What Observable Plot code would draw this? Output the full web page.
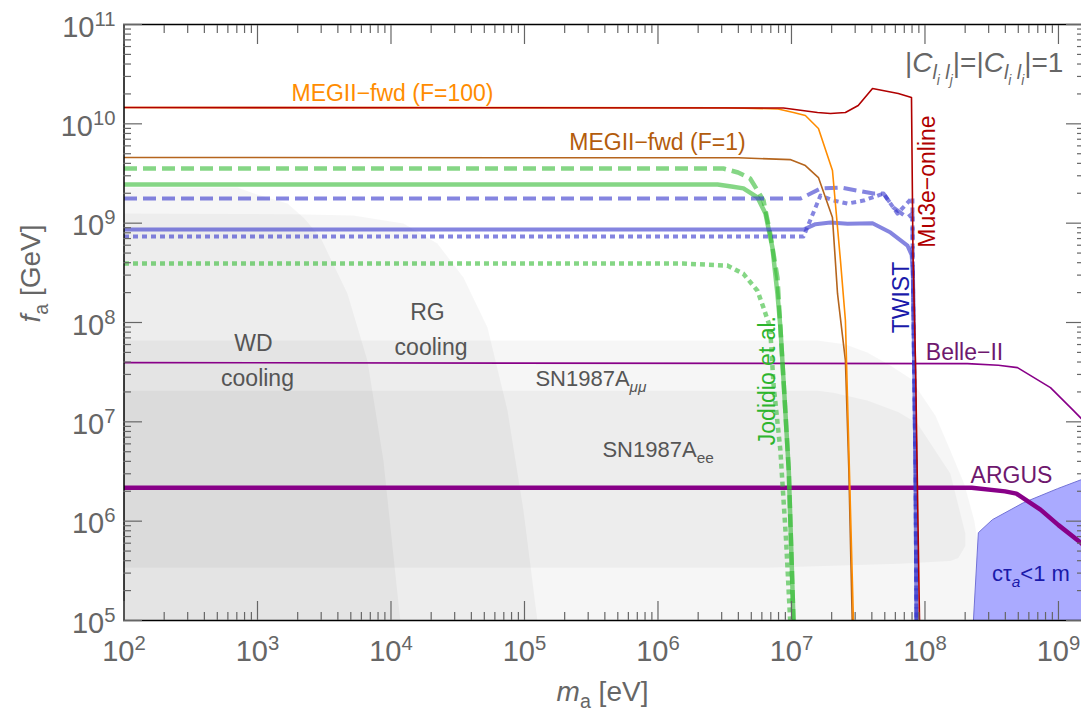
<!DOCTYPE html>
<html><head><meta charset="utf-8">
<script src="https://cdn.jsdelivr.net/npm/d3@7"></script>
<script src="https://cdn.jsdelivr.net/npm/@observablehq/plot@0.6"></script>
<style>body{margin:0;background:#fff;} svg{display:block}</style>
</head><body><div id="chart"></div>
<script>
// ---- data (log10 of m_a [eV], log10 of f_a [GeV]) ----
const xMaxExp = 9.195;
const majorXExp = [2, 3, 4, 5, 6, 7, 8, 9];
const majorYExp = [5, 6, 7, 8, 9, 10, 11];
const minorMult = [2, 3, 4, 5, 6, 7, 8, 9];

const wdCooling = [[2,5],[2,9.359],[2.85,9.359],[2.97,9.30],[3.225,9.197],[3.35,9.05],[3.472,8.855],[3.674,8.291],[3.824,7.616],[3.944,6.609],[4.07,5]];
const rgCooling = [[2,5],[2,9.097],[3.3,9.09],[3.719,9.077],[4.094,8.996],[4.348,8.795],[4.543,8.452],[4.723,7.949],[4.873,7.113],[4.993,6.106],[5.097,5]];
const sn1987Amumu = [[2,5],[2,7.818],[7.195,7.818],[7.4,7.78],[7.569,7.697],[7.75,7.56],[7.891,7.435],[8.079,7.062],[8.191,6.71],[8.296,6.368],[8.37,6.005],[8.416,5.6],[8.43,5]];
const sn1987Aee = [[2,5.532],[2,7.314],[7.2,7.314],[7.315,7.294],[7.569,7.214],[7.8,7.1],[7.944,6.982],[8.191,6.478],[8.303,5.874],[8.303,5.75],[8.25,5.63],[8.191,5.60],[7.82,5.572],[6.82,5.532]];
const ctauRegion = [[8.363,5],[8.40,5.884],[8.505,6.015],[8.738,6.186],[8.993,6.327],[9.195,6.43],[9.195,5]];

const megF100 = [[2,10.164],[6.5,10.162],[6.9,10.15],[7.015,10.114],[7.104,10.084],[7.202,9.953],[7.307,9.53],[7.367,8.623],[7.404,8.02],[7.434,6.509],[7.464,5]];
const megF1 = [[2,9.661],[6.6,9.658],[6.99,9.64],[7.104,9.58],[7.202,9.459],[7.307,9.056],[7.345,8.29],[7.404,7.616],[7.43,6.5],[7.455,5]];
const mu3eOnline = [[2,10.164],[6.94,10.16],[7.195,10.114],[7.292,10.104],[7.404,10.114],[7.50,10.184],[7.607,10.355],[7.80,10.305],[7.899,10.265],[7.91,8.7],[7.929,7.6],[7.959,5]];
const greenDashed = [[2,9.55],[6.49,9.55],[6.6,9.51],[6.69,9.45],[6.79,9.23],[6.84,8.9],[6.895,8.45],[6.917,7.95],[6.95,7.2],[6.98,6.5],[7.015,5]];
const greenSolid = [[2,9.389],[6.446,9.389],[6.55,9.37],[6.64,9.35],[6.745,9.26],[6.805,9.097],[6.857,8.755],[6.895,8.29],[6.917,7.95],[6.95,7.2],[6.98,6.5],[7.015,5]];
const greenDotted = [[2,8.593],[6.19,8.593],[6.52,8.573],[6.64,8.49],[6.745,8.32],[6.79,8.15],[6.84,7.95],[6.865,7.385],[6.917,6.71],[6.96,5.8],[6.99,5]];
const blueSolid = [[2,8.935],[7.09,8.935],[7.18,8.99],[7.292,9.006],[7.42,8.995],[7.607,9.0],[7.742,8.905],[7.869,8.774],[7.9,8.68],[7.91,8.5],[7.929,6.5],[7.936,5]];
const blueDashed = [[2,9.248],[7.068,9.248],[7.217,9.348],[7.367,9.359],[7.615,9.298],[7.69,9.298],[7.764,9.157],[7.869,9.056],[7.906,9.097],[7.908,8.6],[7.929,6.5],[7.936,5]];
const blueDotted = [[2,8.865],[7.09,8.865],[7.217,9.278],[7.315,9.228],[7.42,9.197],[7.54,9.228],[7.69,9.298],[7.794,9.097],[7.906,9.258],[7.908,8.6],[7.929,6.5],[7.936,5]];
const belleII = [[2,7.596],[8.318,7.586],[8.55,7.57],[8.693,7.546],[8.94,7.344],[9.113,7.113],[9.195,7.0]];
const argus = [[2,6.337],[8.35,6.337],[8.6,6.3],[8.685,6.277],[8.865,6.116],[9.0,5.96],[9.17,5.78],[9.195,5.75]];

// annotations (text, position in log10 data units)
const annotations = [
  {text: "MEGII−fwd (F=100)", lx: 4.011, ly: 10.30, color: "#ff8c00", size: 23},
  {text: "MEGII−fwd (F=1)", lx: 5.996, ly: 9.807, color: "#b35c0c", size: 23},
  {text: "|~C~_{~l~_{~i~} ~l~_{~j~}}|=|~C~_{~l~_{~i~} ~l~_{~i~}}|=1", lx: 9.037, ly: 10.617, color: "#666", size: 28, anchor: "end"},
  {text: "Mu3e−online", lx: 8.022, ly: 9.419, color: "#b00000", size: 23, rotate: -90},
  {text: "TWIST", lx: 7.824, ly: 8.251, color: "#1a1aaa", size: 23, rotate: -90},
  {text: "Jodidio et al.", lx: 6.82, ly: 7.415, color: "#2db52d", size: 23, rotate: -90},
  {text: "Belle−II", lx: 8.296, ly: 7.697, color: "#6e186e", size: 23},
  {text: "ARGUS", lx: 8.648, ly: 6.458, color: "#6e186e", size: 23},
  {text: "cτ_{~a~}<1 m", lx: 8.794, ly: 5.471, color: "#1a1aaa", size: 22},
  {text: "WD", lx: 2.97, ly: 7.787, color: "#555", size: 23},
  {text: "cooling", lx: 3.0, ly: 7.44, color: "#555", size: 23},
  {text: "RG", lx: 4.273, ly: 8.095, color: "#555", size: 23},
  {text: "cooling", lx: 4.30, ly: 7.747, color: "#555", size: 23},
  {text: "SN1987A_{~μμ~}", lx: 5.082, ly: 7.435, color: "#555", size: 22, anchor: "start"},
  {text: "SN1987A_{ee}", lx: 5.584, ly: 6.72, color: "#555", size: 22, anchor: "start"}
];

// ---- helpers ----
const pts = arr => arr.map(([lx, ly]) => ({x: 10 ** lx, y: 10 ** ly}));
const majorX = majorXExp.map(e => 10 ** e);
const majorY = majorYExp.map(e => 10 ** e);
const minorX = majorXExp.flatMap(e => minorMult.map(k => k * 10 ** e)).filter(v => v < 10 ** xMaxExp);
const minorY = majorYExp.slice(0, -1).flatMap(e => minorMult.map(k => k * 10 ** e));
const expFmt = d => `10^{${Math.round(Math.log10(d))}}`;

const region = arr => Plot.line(pts(arr), {x: "x", y: "y", fill: "#000", fillOpacity: 0.035, stroke: "none", clip: true});
const curve = (arr, o) => Plot.line(pts(arr), {x: "x", y: "y", clip: true, strokeLinejoin: "round", strokeLinecap: "butt", ...o});

const DASH = "13,6", DOT = "5,4";
const tickStyle = {stroke: "#666", strokeWidth: 1.2, fill: "none", label: null};

const chart = Plot.plot({
  width: 1081, height: 711,
  marginLeft: 123, marginRight: 0, marginTop: 24, marginBottom: 91,
  x: {type: "log", domain: [1e2, 10 ** xMaxExp], range: [123.5, 1084]},
  y: {type: "log", domain: [1e5, 1e11], range: [620, 24]},
  style: {fontFamily: "'Liberation Sans', Arial, sans-serif", background: "#fff"},
  marks: [
    region(wdCooling),
    region(rgCooling),
    region(sn1987Amumu),
    region(sn1987Aee),
    Plot.line(pts(ctauRegion), {x: "x", y: "y", fill: "#aaaaff", stroke: "#7272d6", strokeWidth: 1, clip: true}),

    curve(belleII, {stroke: "#880088", strokeWidth: 1.6}),
    curve(argus, {stroke: "#880088", strokeWidth: 4.5}),
    curve(greenSolid, {stroke: "#33bb33", strokeOpacity: 0.6, strokeWidth: 4.5}),
    curve(greenDashed, {stroke: "#33bb33", strokeOpacity: 0.6, strokeWidth: 4.5, strokeDasharray: DASH}),
    curve(greenDotted, {stroke: "#33bb33", strokeOpacity: 0.6, strokeWidth: 4.5, strokeDasharray: DOT}),
    curve(blueSolid, {stroke: "#3333cc", strokeOpacity: 0.6, strokeWidth: 4}),
    curve(blueDashed, {stroke: "#3333cc", strokeOpacity: 0.6, strokeWidth: 4, strokeDasharray: DASH}),
    curve(blueDotted, {stroke: "#3333cc", strokeOpacity: 0.6, strokeWidth: 4, strokeDasharray: DOT}),
    curve(megF1, {stroke: "#b5651d", strokeWidth: 1.6}),
    curve(megF100, {stroke: "#ff8c00", strokeWidth: 1.6}),
    curve(mu3eOnline, {stroke: "#b00000", strokeWidth: 1.6}),

    // frame
    Plot.ruleX([1e2], {stroke: "#000", strokeWidth: 1.5}),
    Plot.ruleY([1e5, 1e11], {stroke: "#000", strokeWidth: 1.5}),

    // inward ticks on all sides
    Plot.axisX(majorX, {anchor: "bottom", tickSize: -19, ...tickStyle}),
    Plot.axisX(minorX, {anchor: "bottom", tickSize: -8, ...tickStyle}),
    Plot.axisX(majorX, {anchor: "top", tickSize: -19, ...tickStyle}),
    Plot.axisX(minorX, {anchor: "top", tickSize: -8, ...tickStyle}),
    Plot.axisY(majorY, {anchor: "left", tickSize: -19, ...tickStyle}),
    Plot.axisY(minorY, {anchor: "left", tickSize: -8, ...tickStyle}),
    Plot.axisY(majorY, {anchor: "right", tickSize: -19, dx: 3, ...tickStyle}),
    Plot.axisY(minorY, {anchor: "right", tickSize: -8, dx: 3, ...tickStyle}),

    // tick labels
    Plot.axisX(majorX, {anchor: "bottom", tickSize: 0, tickPadding: 20, fontSize: 29, fill: "#666", tickFormat: expFmt, label: null}),
    Plot.axisY(majorY, {anchor: "left", tickSize: 0, tickPadding: 8, dy: 3, fontSize: 29, fill: "#666", tickFormat: expFmt, label: null}),

    // axis titles
    Plot.text(["~m~_{a} [eV]"], {frameAnchor: "bottom", dy: 80, text: d => d, fontSize: 28, fill: "#666"}),
    Plot.text(["~f~_{a} [GeV]"], {frameAnchor: "left", dx: -92, rotate: -90, text: d => d, fontSize: 28, fill: "#666"}),

    // annotations
    ...annotations.map(a => Plot.text([a], {
      x: d => 10 ** d.lx, y: d => 10 ** d.ly, text: d => d.text,
      fill: a.color, fontSize: a.size, rotate: a.rotate || 0, textAnchor: a.anchor || "middle"
    }))
  ]
});

document.getElementById("chart").append(chart);

// rich text: _{sub}, ^{sup}, ~italic~
function richify(el) {
  const src = el.textContent;
  if (!/[_^]\{|~/.test(src)) return;
  const base = parseFloat(getComputedStyle(el).fontSize) || 16;
  while (el.firstChild) el.removeChild(el.firstChild);
  let cur = 0;
  function emit(str, size, off, ital) {
    if (!str) return;
    const t = document.createElementNS("http://www.w3.org/2000/svg", "tspan");
    t.setAttribute("font-size", size);
    if (off !== cur) t.setAttribute("dy", off - cur);
    if (ital) t.setAttribute("font-style", "italic");
    t.textContent = str;
    el.appendChild(t);
    cur = off;
  }
  function parse(s, size, off, ital) {
    let i = 0, buf = "";
    while (i < s.length) {
      const c = s[i];
      if ((c === "_" || c === "^") && s[i + 1] === "{") {
        emit(buf, size, off, ital); buf = "";
        let depth = 1, j = i + 2;
        while (j < s.length && depth) { if (s[j] === "{") depth++; else if (s[j] === "}") depth--; j++; }
        parse(s.slice(i + 2, j - 1), size * 0.7, off + (c === "_" ? 0.28 : -0.38) * size, ital);
        i = j;
      } else if (c === "~") {
        emit(buf, size, off, ital); buf = ""; ital = !ital; i++;
      } else { buf += c; i++; }
    }
    emit(buf, size, off, ital);
  }
  parse(src, base, 0, false);
}
chart.querySelectorAll("text").forEach(richify);
</script></body></html>
